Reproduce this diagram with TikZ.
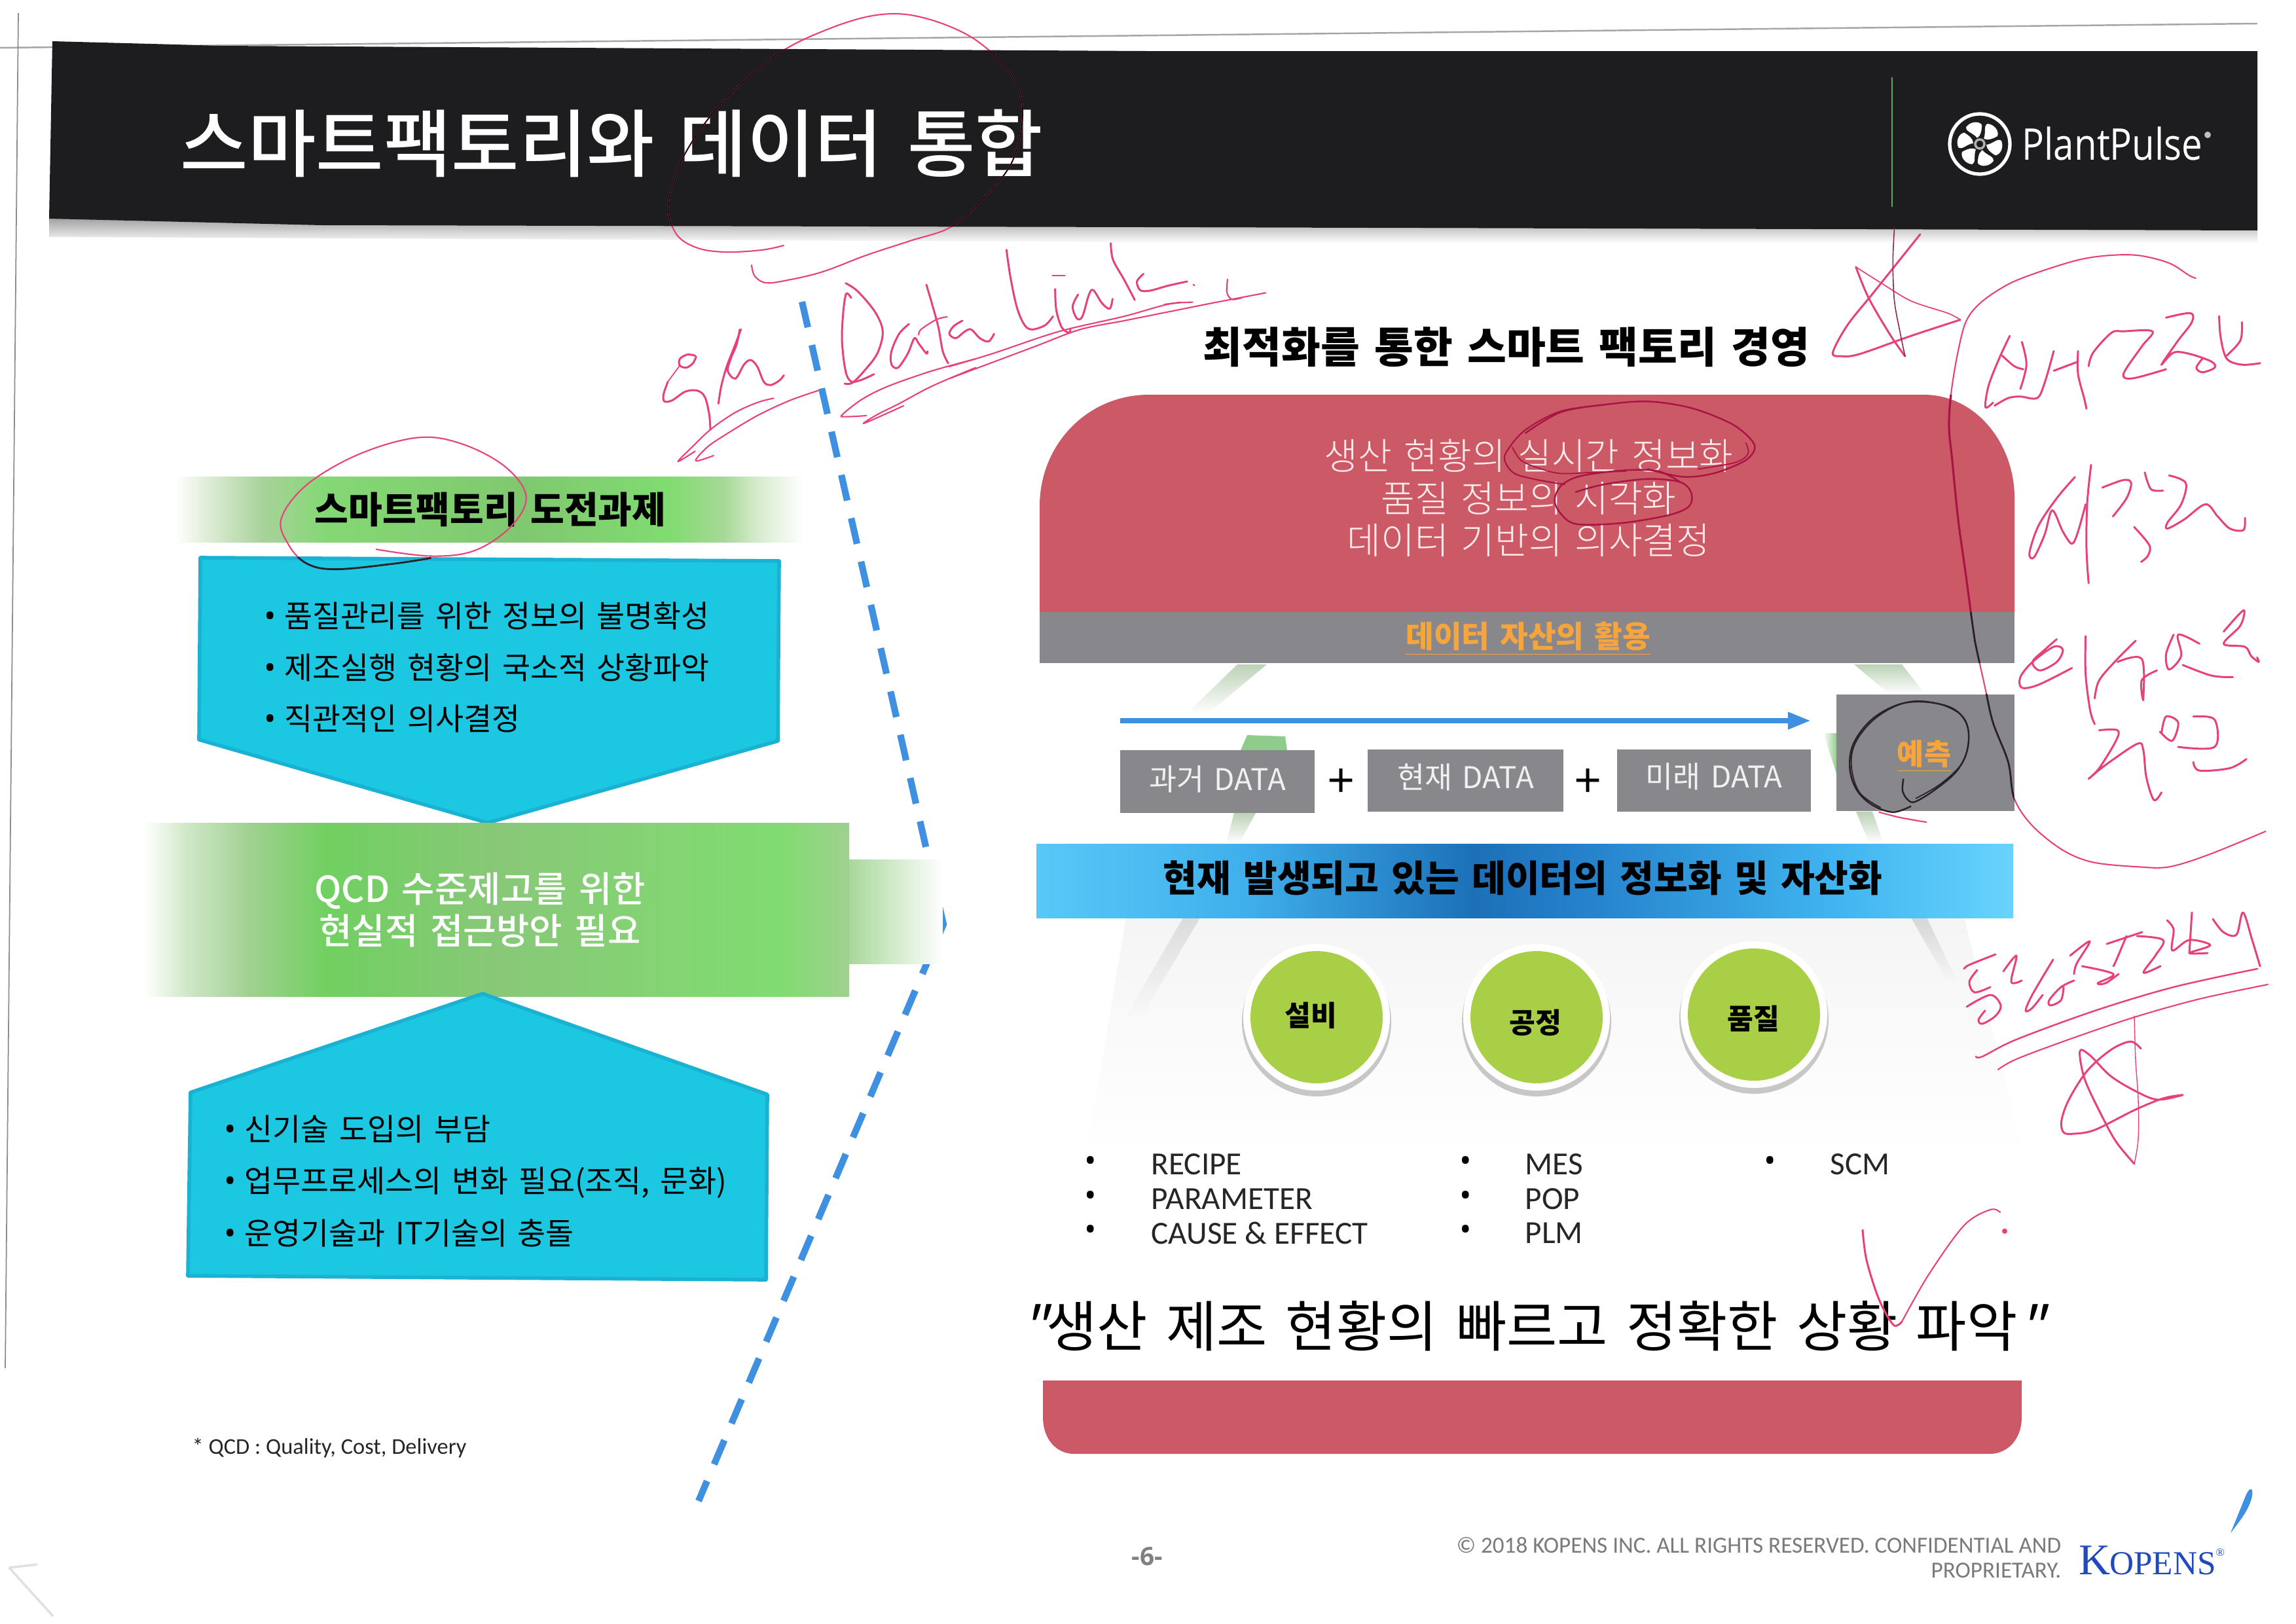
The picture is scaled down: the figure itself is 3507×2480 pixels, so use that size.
\documentclass[tikz,border=0pt]{standalone}
\usepackage{fontspec}
\setmainfont{Noto Sans CJK KR}[WordSpace=1.5]
\newfontfamily\krlight{Noto Sans CJK KR Light}[WordSpace=1.5]
\newfontfamily\krmed{Noto Sans CJK KR Medium}[WordSpace=1.5]
\newfontfamily\quotefont{Noto Sans CJK KR}[WordSpace=1.5]
\newfontfamily\quoteslant{Noto Sans CJK KR}[FakeSlant=0.25]
\newfontfamily\ofont{Open Sans}
\newfontfamily\cfont{Carlito}
\newfontfamily\sfont{Liberation Serif}
\usetikzlibrary{arrows.meta}
\definecolor{barblack}{HTML}{1D1D1F}
\definecolor{ink}{HTML}{E8407C}
\definecolor{inkdark}{HTML}{A81444}
\definecolor{pen}{HTML}{2A2028}
\definecolor{dashblue}{HTML}{3F90E0}
\definecolor{cyanfill}{HTML}{1CC7E2}
\definecolor{cyanedge}{HTML}{1AB2D2}
\definecolor{redfill}{HTML}{CC5A66}
\definecolor{grayfill}{HTML}{88888C}
\definecolor{orangetext}{HTML}{F5A53C}
\definecolor{leaf}{HTML}{A8CF45}
\definecolor{smear}{HTML}{BCD2B6}
\definecolor{smeargreen}{HTML}{8FCB8A}
\definecolor{bandtail}{HTML}{A8D89A}
\pgfdeclarehorizontalshading{bandone}{100bp}{
 rgb(0bp)=(1,1,1); rgb(25bp)=(1,1,1);
 rgb(27.7bp)=(.863,.925,.831);
 rgb(31.9bp)=(.659,.824,.604);
 rgb(37bp)=(.518,.847,.455);
 rgb(52.7bp)=(.502,.784,.439);
 rgb(64.3bp)=(.502,.863,.439);
 rgb(68.7bp)=(.659,.847,.596);
 rgb(71.4bp)=(.847,.925,.816);
 rgb(75bp)=(1,1,1); rgb(100bp)=(1,1,1)}
\pgfdeclarehorizontalshading{bandtwo}{100bp}{
 rgb(0bp)=(1,1,1); rgb(25bp)=(1,1,1);
 rgb(28bp)=(.816,.91,.784);
 rgb(32.5bp)=(.627,.816,.565);
 rgb(38bp)=(.439,.816,.376);
 rgb(50bp)=(.533,.784,.471);
 rgb(70bp)=(.502,.863,.439);
 rgb(75bp)=(.627,.816,.565); rgb(100bp)=(.627,.816,.565)}
\pgfdeclarehorizontalshading{bandblue}{100bp}{
 rgb(0bp)=(.345,.784,.973); rgb(25bp)=(.345,.784,.973);
 rgb(35.6bp)=(.251,.69,.925);
 rgb(47.4bp)=(.11,.44,.72);
 rgb(52.4bp)=(.14,.50,.79);
 rgb(65.8bp)=(.251,.706,.941);
 rgb(75bp)=(.408,.831,.988); rgb(100bp)=(.408,.831,.988)}
\tikzset{
 boxtext/.style={anchor=west,inner sep=0pt,text=black},
 cyanbox/.style={fill=cyanfill,draw=cyanedge,line width=1.6pt,line join=round},
 graybox/.style={fill=grayfill,draw=none},
 datatext/.style={inner sep=0pt,text=white!88!gray,font=\fontsize{13}{15}\selectfont},
 ball/.style={fill=leaf,draw=none},
 balltext/.style={inner sep=0pt,text=black,font=\fontsize{12.3}{14}\selectfont\bfseries},
 listtext/.style={anchor=west,inner sep=0pt,text=black!85,font=\cfont\fontsize{14}{16}\selectfont},
 bulletmark/.style={inner sep=0pt,text=black,font=\ofont\fontsize{14}{16}\selectfont},
 inkline/.style={draw=ink,line width=.85pt,line cap=round,line join=round},
 thinink/.style={draw=ink,line width=.5pt,line cap=round,line join=round},
 smudge/.style={draw=none},
}
\newcommand\ink[2][]{\draw[inkline,#1] plot[smooth,tension=.55] coordinates {#2};}
\newcommand\bl[1]{\makebox[8.8pt][l]{\ofont\fontsize{14}{15}\selectfont •}#1}
\newcommand\barpath{(80,63) -- (268,68) -- (335,70) -- (1750,78) -- (3448,78) -- (3448,352) -- (1750,347) -- (491,344) -- (75,334) -- cycle}
\newcommand\redpath{(1588,935) -- (1588,773) .. controls (1588,680) and (1660,603) .. (1755,603) -- (2938,603) .. controls (3020,603) and (3077,680) .. (3077,760) -- (3077,935) -- cycle}
\newcommand\onepath{(306,852) -- (1190,857) -- (1188,1132) -- (745,1257) -- (304,1130) -- cycle}
\newcommand\titlecirc{plot[smooth,tension=.6] coordinates {(1197,375) (1163,382) (1107,385) (1063,378) (1032,356) (1021,310) (1043,241) (1099,161) (1183,86) (1261,46) (1339,23) (1406,26) (1484,57) (1540,109) (1562,166) (1546,247) (1495,310) (1450,348) (1390,368) (1323,390) (1257,415) (1203,428) (1170,432) (1153,422) (1148,405)}}
\newcommand\bandcirc{plot[smooth,tension=.6] coordinates {(515,1462) (590,1480) (650,1465) (700,1400) (720,1320) (690,1240) (630,1180) (570,1165) (490,1210) (420,1290) (385,1380) (395,1450) (420,1500) (460,1515) (540,1500) (590,1485)}}
\newcommand\bigbracket{plot[smooth,tension=.55] coordinates {(1238,205) (1215,195) (1150,155) (1050,130) (950,130) (850,145) (720,185) (620,225) (530,285) (480,350) (450,470) (430,600) (425,700) (435,800) (455,1000) (480,1180) (500,1330) (510,1400) (545,1560) (570,1670) (620,1800) (640,1920) (700,2010) (800,2090) (900,2130) (1050,2145) (1150,2145) (1280,2105) (1468,2028)}}
\begin{document}
\begin{tikzpicture}[x=0.1mm,y=-0.1mm]
\useasboundingbox (0,0) rectangle (3507,2480);
\fill[white] (0,0) rectangle (3507,2480);
% scan edges
\coordinate (ta) at (0,73); \coordinate (tb) at (3448,36);
\coordinate (la) at (28,20); \coordinate (lb) at (8,2090);
\draw[black!35,line width=.7pt] (ta) -- (tb);
\draw[black!45,line width=.5pt] (la) -- (lb);
\coordinate (sa) at (14,2395); \coordinate (sb) at (57,2390); \coordinate (sc) at (81,2469);
\draw[black!12,line width=1pt] (sa) -- (sb) (sa) -- (sc);
% haze and smudges behind the centre column
\shade[smudge,top color=black!4,bottom color=white] (1720,1402) -- (3000,1402) -- (3090,1760) -- (1660,1760) -- cycle;
\shade[smudge,top color=black!14,bottom color=black!2] (1807,1402) -- (1833,1402) -- (1740,1560) -- (1718,1556) -- cycle;
\shade[smudge,top color=black!16,bottom color=black!3] (2919,1402) -- (2943,1402) -- (2990,1500) -- (2975,1500) -- cycle;
\shade[smudge,top color=smear,bottom color=white] (1890,1015) -- (1935,1015) -- (1845,1090) -- (1817,1086) -- cycle;
\shade[smudge,top color=smear,bottom color=white] (2832,1015) -- (2905,1015) -- (2940,1060) -- (2885,1060) -- cycle;
\fill[smeargreen] (1895,1146) -- (1905,1123) -- (1963,1125) -- (1966,1146) -- cycle;
\shade[smudge,top color=smear,bottom color=white] (1885,1242) -- (1918,1242) -- (1893,1288) -- (1873,1288) -- cycle;
\shade[smudge,left color=white,right color=smeargreen] (2785,1120) -- (2806,1120) -- (2806,1185) -- cycle;
\shade[smudge,top color=smear,bottom color=white] (2835,1240) -- (2860,1240) -- (2877,1288) -- (2855,1288) -- cycle;
% title bar
\shade[top color=black!36,bottom color=white,draw=none] (75,334) -- (1750,347) -- (3448,352) -- (3448,372) -- (1750,370) -- (75,362) -- cycle;
\fill[barblack] \barpath;
\node[anchor=west,inner sep=0pt,text=white,font=\krmed\fontsize{32}{36}\selectfont] (title) at (275,219) {스마트팩토리와 데이터 통합};
\coordinate (va) at (2890,118); \coordinate (vb) at (2890,316);
\draw[green!40!black!60!white,line width=.4pt] (va) -- (vb);
% PlantPulse logo
\coordinate (logo) at (3024,220);
\draw[white,line width=1.5pt] (logo) circle (46);
\foreach \a in {0,60,...,300}{
 \begin{scope}[shift={(logo)},rotate=\a]
 \fill[white] (6,-8) .. controls (10,-18) and (5,-28) .. (12,-31) .. controls (22,-30) and (30,-20) .. (27,-12) .. controls (20,-8) and (12,-5) .. (6,-8) -- cycle;
 \end{scope}}
\draw[black!30!white,line width=1pt] (logo) circle (7);
\node[anchor=west,inner sep=0pt,text=white,font=\ofont\fontsize{19}{22}\selectfont] (plant) at (3088,219) {\scalebox{.845}[1]{PlantPulse}};
\fill[black!25!white] (3372,206) circle (5);
% dashed divider
\coordinate (da) at (1225,461); \coordinate (db) at (1441,1412); \coordinate (dc) at (1067,2293);
\draw[dashblue,line width=2.9pt,dash pattern=on 11.4pt off 7.9pt] (da) -- (db) -- (dc);
% left column
\shade[shading=bandone,draw=none] (268,728) rectangle (1228,828);
\node[inner sep=0pt,text=black,font=\fontsize{16}{18}\selectfont\bfseries] (ch) at (749,778) {스마트팩토리 도전과제};
\draw[cyanbox] \onepath;
\node[boxtext,font=\fontsize{13.3}{15}\selectfont] (a1) at (403,941) {\bl{품질관리를 위한 정보의 불명확성}};
\node[boxtext,font=\fontsize{13.3}{15}\selectfont] (a2) at (403,1020) {\bl{제조실행 현황의 국소적 상황파악}};
\node[boxtext,font=\fontsize{13.3}{15}\selectfont] (a3) at (403,1098) {\bl{직관적인 의사결정}};
\shade[shading=bandtwo,draw=none] (220,1257) rectangle (1297,1522);
\shade[left color=bandtail,right color=white,draw=none] (1297,1313) rectangle (1440,1472);
\draw[cyanbox] (291,1669) -- (737,1518) -- (1172,1672) -- (1170,1955) -- (287,1949) -- cycle;
\node[text=white,inner sep=0pt,align=center,font=\krmed\fontsize{15.6}{18.2}\selectfont] (qcd) at (733,1390) {QCD 수준제고를 위한\\현실적 접근방안 필요};
\node[boxtext,font=\fontsize{13.3}{15}\selectfont] (b1) at (342,1725) {\bl{신기술 도입의 부담}};
\node[boxtext,font=\fontsize{13.3}{15}\selectfont] (b2) at (342,1807) {\bl{업무프로세스의 변화 필요(조직, 문화)}};
\node[boxtext,font=\fontsize{13.3}{15}\selectfont] (b3) at (342,1884) {\bl{운영기술과 IT기술의 충돌}};
\node[anchor=west,inner sep=0pt,text=black!85,font=\cfont\fontsize{9.8}{12}\selectfont] (foot) at (293,2212) {* QCD : Quality, Cost, Delivery};
% right column
\node[inner sep=0pt,text=black,font=\fontsize{18.5}{21}\selectfont\bfseries] (rt) at (2301,530) {최적화를 통한 스마트 팩토리 경영};
\fill[redfill] \redpath;
\node[inner sep=0pt,align=center,text=white!92!red,font=\krlight\fontsize{16}{18.4}\selectfont] (redt) at (2335,761) {생산 현황의 실시간 정보화\\품질 정보의 시각화\\데이터 기반의 의사결정};
\fill[grayfill] (1588,935) rectangle (3077,1013);
\node[inner sep=0pt,text=orangetext,font=\fontsize{13.2}{15}\selectfont\bfseries] (asset) at (2334,976) {\underline{데이터 자산의 활용}};
\coordinate (aa) at (1711,1101); \coordinate (ab) at (2766,1101);
\draw[dashblue,line width=2.4pt,-{Stealth[length=10pt,width=7pt,inset=0pt]}] (aa) -- (ab);
\node[graybox,minimum width=297*0.2845pt,minimum height=96*0.2845pt,inner sep=0pt] (past) at (1859.5,1194) {};
\node[datatext,yshift=1pt] at (past.center) {과거 DATA};
\node[graybox,minimum width=299*0.2845pt,minimum height=95*0.2845pt,inner sep=0pt] (now) at (2238.5,1192.5) {};
\node[datatext,yshift=1.6pt] at (now.center) {현재 DATA};
\node[graybox,minimum width=296*0.2845pt,minimum height=95*0.2845pt,inner sep=0pt] (future) at (2618,1192.5) {};
\node[datatext,yshift=1.6pt] at (future.center) {미래 DATA};
\node[graybox,minimum width=272*0.2845pt,minimum height=178*0.2845pt,inner sep=0pt] (pred) at (2941,1150) {};
\node[inner sep=0pt,text=orangetext,font=\fontsize{12.7}{15}\selectfont\bfseries] (predt) at (2939,1155) {\underline{예측}};
\node[inner sep=0pt,text=black,font=\ofont\fontsize{21}{24}\selectfont] (p1) at (2049,1197) {+};
\node[inner sep=0pt,text=black,font=\ofont\fontsize{21}{24}\selectfont] (p2) at (2426,1197) {+};
\shade[shading=bandblue,draw=none] (1583,1289) rectangle (3075,1402);
\node[inner sep=0pt,text=black,font=\fontsize{16}{18}\selectfont\bfseries] (bandt) at (2326,1341) {현재 발생되고 있는 데이터의 정보화 및 자산화};
% circles
\foreach \cx/\cy in {2011/1554,2347/1554,2679/1550}{
 \fill[black!22] (\cx,\cy+7) circle (114);
 \fill[white] (\cx,\cy) circle (112);
}
\node[ball,circle,minimum size=202*0.2845pt,inner sep=0pt] (c1) at (2011,1554) {};
\node[ball,circle,minimum size=202*0.2845pt,inner sep=0pt] (c2) at (2347,1554) {};
\node[ball,circle,minimum size=202*0.2845pt,inner sep=0pt] (c3) at (2679,1550) {};
\node[balltext] (t1) at (2002,1551) {설비};
\node[balltext] (t2) at (2345,1562) {공정};
\node[balltext] (t3) at (2678,1556) {품질};
% lists
\foreach \n/\y/\t in {k1/1779/RECIPE,k2/1832/PARAMETER,k3/1884/CAUSE \& EFFECT}{
 \node[bulletmark] (\n b) at (1666,\y) {•};
 \node[listtext] (\n) at (1758,\y) {\t};}
\foreach \n/\y/\t in {m1/1779/MES,m2/1832/POP,m3/1884/PLM}{
 \node[bulletmark] (\n b) at (2239,\y) {•};
 \node[listtext] (\n) at (2329,\y) {\t};}
\node[bulletmark] (s1b) at (2704,1779) {•};
\node[listtext] (s1) at (2795,1779) {SCM};
\node[inner sep=0pt,text=black,font=\quotefont\fontsize{23.9}{28}\selectfont] (quote) at (2340,2026) {{\quoteslant"}생산 제조 현황의 빠르고 정확한 상황 파악{\quoteslant"}};
\fill[redfill] (1593,2109) -- (3088,2109) -- (3088,2165) .. controls (3088,2200) and (3065,2221) .. (3040,2221) -- (1640,2221) .. controls (1615,2221) and (1593,2200) .. (1593,2165) -- cycle;
\node[inner sep=0pt,text=black!50,font=\ofont\fontsize{11}{13}\selectfont\bfseries] (page) at (1752,2378) {-6-};
\node[anchor=east,inner sep=0pt,align=right,text=black!52,font=\cfont\fontsize{10}{10.8}\selectfont] (copy) at (3149,2380) {© 2018 KOPENS INC. ALL RIGHTS RESERVED. CONFIDENTIAL AND\\PROPRIETARY.};
\node[anchor=west,inner sep=0pt,text=dashblue!65!blue!80!black,font=\sfont] (kop) at (3175,2384) {\fontsize{19}{20}\selectfont K\kern-.5pt\fontsize{14.6}{20}\selectfont OPENS\raisebox{1.2ex}{\fontsize{5}{6}\selectfont ®}};
\fill[dashblue] (3407,2342) -- (3431,2283) .. controls (3436,2272) and (3442,2272) .. (3440,2285) .. controls (3436,2306) and (3420,2325) .. cycle;
%%%%% red pen marks
% circle round the title
\draw[inkline,line width=.6pt] \titlecirc;
\begin{scope}\clip \barpath; \draw[black,line width=.45pt] \titlecirc; \end{scope}
% circle round the green band words
\begin{scope}[xscale=1.116,yscale=.574]
\draw[inkline,line width=.6pt] \bandcirc;
\begin{scope}\clip (274,1483) rectangle (1066,1568); \draw[pen,line width=.8pt] \bandcirc; \end{scope}
\end{scope}
% handwriting, first part
\begin{scope}[shift={(990,340)},scale=.33333]
\ink{(215,610) (180,605) (145,625) (145,655) (175,665) (205,645) (220,615)}
\ink[thinink]{(145,655) (90,730)}
\ink{(90,730) (70,790) (75,820) (110,815) (170,775) (225,770) (260,800) (280,880) (285,950)}
\ink{(425,490) (395,570) (360,660) (335,750) (322,830)}
\ink{(420,490) (405,560) (380,620) (365,680) (400,715) (440,650) (470,630) (500,660) (530,730) (560,745) (600,725) (622,700)}
\ink[line width=.6pt]{(575,805) (500,825) (400,870) (290,945) (200,1030) (137,1095) (215,1048)}
\ink[line width=.6pt]{(780,770) (650,815) (500,885) (350,975) (270,1030) (218,1092) (300,1068)}
\ink{(905,278) (960,315) (1040,410) (1075,500) (1050,600) (990,680) (935,735) (900,738)}
\ink{(1035,695) (980,720) (935,730) (910,700) (895,620) (888,520) (895,400) (908,325) (930,345)}
\ink{(1195,465) (1150,510) (1115,590) (1115,650) (1145,665) (1190,600) (1220,530) (1240,555) (1275,600) (1280,590)}
\ink{(1275,285) (1300,370) (1330,480) (1350,590) (1375,645)}
\ink[line width=.6pt]{(1240,515) (1250,490) (1320,445) (1370,432)}
\ink[line width=.6pt]{(1500,625) (1300,680) (1100,750) (980,810) (890,880) (900,890) (1000,885)}
\ink[line width=.6pt]{(1500,665) (1300,750) (1150,830) (1050,880) (990,920) (1170,840)}
\end{scope}
\begin{scope}[shift={(1450,340)},scale=.33333]
\ink{(60,450) (20,475) (0,510) (30,530) (70,500) (100,490) (140,530) (180,545) (205,510)}
\ink[line width=.6pt]{(0,660) (200,600) (500,500) (800,430) (1000,375) (1115,365)}
\ink[line width=.6pt]{(0,715) (200,640) (400,565) (600,490) (800,450) (1000,410) (1200,370) (1450,322)}
\ink{(262,125) (280,250) (310,390) (345,470) (380,490) (440,470) (475,430)}
\ink{(485,305) (490,400) (515,480) (548,505) (555,490)}
\ink[line width=.6pt]{(472,242) (530,242)}
\ink{(590,330) (565,385) (585,440) (610,430) (640,330) (660,310) (700,370) (735,395) (748,350)}
\ink{(740,95) (750,170) (800,260) (850,355)}
\ink{(890,235) (860,270) (875,310) (920,312) (1000,290) (1090,270)}
\ink[line width=.6pt]{(1118,284) (1122,288)}
\ink[line width=.6pt]{(1275,260) (1272,320) (1295,352) (1340,345)}
\ink[line width=.6pt]{(985,375) (1060,365)}
\end{scope}
% star, bracket, words at the right
\begin{scope}[shift={(2780,330)},scale=.46355]
\ink{(330,60) (250,160) (170,260) (90,360) (42,450) (70,462) (130,455) (300,395) (462,342)}
\ink[line width=.5pt]{(462,342) (420,320) (300,280) (200,220) (118,168)}
\ink{(118,168) (160,270) (230,390) (280,462)}
\ink[line width=.45pt,draw=black!40!ink]{(280,462) (265,390) (245,280) (240,150) (245,40)}
\draw[inkline,line width=.6pt] \bigbracket;
\begin{scope}\clip (0,590) rectangle (640,1306); \draw[inkdark,line width=.9pt] \bigbracket; \end{scope}
\begin{scope}\clip (0,1306) rectangle (640,1473); \draw[pen,line width=.8pt] \bigbracket; \end{scope}
\begin{scope}\clip (50,1576) rectangle (640,1960); \draw[pen,line width=.8pt] \bigbracket; \end{scope}
\ink{(625,395) (590,470) (555,560) (545,630) (570,615)}
\ink{(600,460) (640,495) (670,505)}
\ink{(665,415) (680,490) (660,570)}
\ink{(575,625) (620,600) (660,595) (715,600) (740,550) (770,445)}
\ink{(850,445) (850,520) (870,600) (878,635)}
\ink{(770,510) (850,480)}
\ink{(885,495) (900,450) (960,385) (1000,380) (1095,380) (1060,430) (1000,520) (1030,535) (1140,505)}
\ink{(1140,335) (1220,320) (1225,350) (1180,410) (1125,490) (1165,450) (1220,455) (1290,480) (1300,500) (1260,515) (1240,500) (1260,470)}
\ink{(1315,330) (1320,400) (1340,470) (1390,490) (1450,485)}
\ink{(1390,350) (1385,410) (1340,460)}
\ink{(840,860) (780,930) (720,1020) (690,1110) (705,1125) (740,1050) (765,970) (800,1040) (830,1080) (850,1040) (875,950)}
\ink{(893,820) (880,950) (878,1100) (885,1210)}
\ink{(930,895) (1000,870) (1025,880) (1010,930) (965,990)}
\ink{(1070,845) (1090,900) (1130,905)}
\ink{(1035,1025) (1085,1085) (1080,1120) (1058,1140)}
\ink{(1150,855) (1205,880) (1190,950) (1145,1010) (1145,1030) (1200,1000) (1270,950) (1310,990) (1350,1030) (1395,1035) (1400,995)}
\end{scope}
\begin{scope}[shift={(2780,900)},scale=.46355]
\ink{(780,165) (740,200) (700,240) (725,268) (780,240) (800,200) (770,190) (700,240) (660,290) (665,325) (720,315) (830,260)}
\ink{(875,155) (875,280) (890,400) (905,445)}
\ink{(1040,170) (980,230) (920,300) (905,360)}
\ink{(980,240) (1060,230) (1065,365) (1060,300) (1110,268)}
\ink{(1165,150) (1140,215) (1150,265) (1190,220) (1180,150) (1250,180)}
\ink{(1195,250) (1290,285) (1360,290)}
\ink{(1330,140) (1395,70) (1385,120) (1330,180) (1400,190) (1420,220) (1445,240) (1440,225)}
\ink{(920,465) (980,465) (975,500) (920,590) (885,625) (940,580) (1045,510) (1065,530) (1075,620) (1100,695) (1125,670)}
\ink{(1125,475) (1140,420) (1180,440) (1160,500) (1120,470)}
\ink{(1180,520) (1300,520) (1300,430) (1230,420)}
\ink{(1230,570) (1250,598) (1350,590) (1405,560)}
\ink[line width=.6pt]{(195,735) (260,752) (350,768)}
\draw[pen,line width=.7pt] plot[smooth,tension=.6] coordinates {(275,625) (272,665) (290,695) (315,700) (380,660) (450,600) (485,530) (485,450) (440,395) (350,372) (260,380) (170,430) (110,510) (98,590) (120,660) (170,710) (240,735) (300,715)};
\draw[pen,line width=.5pt] plot[smooth,tension=.6] coordinates {(315,690) (400,640) (470,570) (490,490) (470,420) (390,378) (290,372) (190,420) (120,500) (103,580) (130,670) (200,720)};
\end{scope}
\begin{scope}[shift={(2880,1340)},scale=.4]
\ink{(300,350) (320,335) (420,295)}
\ink{(350,355) (320,400) (340,440) (400,420)}
\ink{(310,495) (400,450) (440,490) (420,530) (370,560) (355,545) (380,510)}
\ink{(450,360) (500,300) (480,400) (520,395)}
\ink{(640,315) (560,450) (535,510) (560,500) (600,450)}
\ink{(720,395) (670,420) (625,470) (630,490) (670,470) (680,420)}
\ink{(705,300) (780,245) (730,330) (720,370)}
\ink{(750,340) (870,370) (810,405) (840,405) (890,370)}
\ink{(845,255) (980,210)}
\ink{(920,225) (880,320) (870,340)}
\ink{(960,225) (1060,240) (1030,300) (985,365) (1050,340)}
\ink{(1075,165) (1100,200) (1095,280) (1160,240) (1240,260) (1160,290) (1230,290)}
\ink{(1170,135) (1160,290)}
\ink{(1250,160) (1290,210) (1340,220) (1365,135) (1400,240) (1430,340)}
\ink[line width=.7pt]{(345,685) (370,685) (500,620) (800,510) (1100,420) (1420,350)}
\ink[line width=.6pt]{(430,735) (500,695) (700,620) (950,535) (1200,465) (1460,410)}
\ink[line width=.4pt]{(950,530) (955,700) (965,850) (965,1000) (950,1095)}
\ink{(950,1095) (880,1010) (820,900) (760,770) (742,665) (780,680) (860,760) (960,820) (1040,850) (1135,832) (1060,845) (950,890) (800,965) (720,980) (680,975) (672,930) (700,850) (770,740) (860,660) (935,628) (975,655)}
\fill[ink] (455,1352) circle (10);
\end{scope}
\ink{(2845,1879) (2851,1925) (2870,1985) (2892,2024) (2905,2019)}
\ink[line width=.6pt]{(2905,2019) (2946,1947) (3000,1872) (3040,1848) (3055,1852)}
% the two rings on the red panel
\begin{scope}[shift={(2250,590)},scale=.33333]
\ink[draw=inkdark,line width=.7pt]{(240,215) (400,120) (600,85) (800,70) (1000,100) (1180,170) (1270,240) (1290,290) (1240,345) (1100,400) (960,415) (800,380)}
\ink[draw=inkdark,line width=.6pt]{(420,450) (300,430) (190,400) (145,340) (160,290) (240,200) (400,115) (600,85)}
\ink[draw=inkdark,line width=.5pt]{(180,280) (220,340) (300,375) (400,400) (550,395) (700,390)}
\ink[draw=inkdark,line width=.5pt]{(1250,260) (1260,310) (1200,350) (1030,380)}
\ink[draw=inkdark,line width=.7pt]{(470,485) (600,450) (800,425) (950,440) (1000,490) (990,550) (900,590) (700,625) (520,635) (440,620) (385,560) (375,510) (410,450) (500,410) (700,385) (850,390) (950,440)}
\end{scope}
\end{tikzpicture}
\end{document}
